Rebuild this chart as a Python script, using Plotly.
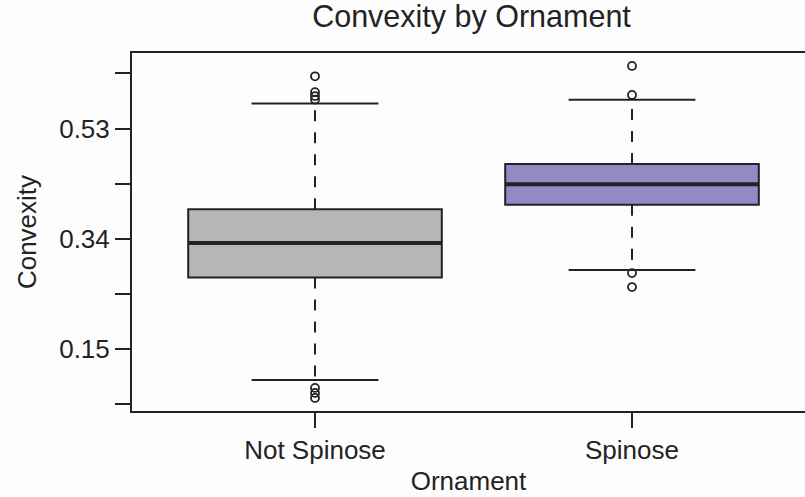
import plotly.graph_objects as go

# ---- data ----
categories = ["Not Spinose", "Spinose"]
q1 = [0.2734, 0.3985]
median = [0.3326, 0.4342]
q3 = [0.3911, 0.4691]
lower_whisker = [0.0965, 0.2861]
upper_whisker = [0.5730, 0.5798]
outliers_not_spinose = [0.6200, 0.5926, 0.5860, 0.5800, 0.0829, 0.0743, 0.0657]
outliers_spinose = [0.6379, 0.5879, 0.2809, 0.2568]
fill_colors = ["#b5b6b8", "#9489c2"]

y_tick_vals = [0.055, 0.15, 0.245, 0.34, 0.435, 0.53, 0.625]
y_tick_text = ["", "0.15", "", "0.34", "", "0.53", ""]

# ---- style ----
INK = "#232323"
FONT = "Liberation Sans, Arial, Helvetica, sans-serif"
BOX_W = 0.8
CAP_HALF = 0.2

outliers = [outliers_not_spinose, outliers_spinose]

fig = go.Figure()

for i, cat in enumerate(categories):
    # box body (no whiskers: fences at the hinges)
    fig.add_trace(go.Box(
        x=[i], q1=[q1[i]], median=[median[i]], q3=[q3[i]],
        lowerfence=[q1[i]], upperfence=[q3[i]],
        width=BOX_W, whiskerwidth=0,
        fillcolor=fill_colors[i],
        line=dict(color=INK, width=2),
        boxpoints=False, showlegend=False, hoverinfo="skip",
    ))

for i, cat in enumerate(categories):
    # dashed whiskers, starting at the hinges
    fig.add_trace(go.Scatter(
        x=[i, i], y=[q3[i], upper_whisker[i]], mode="lines",
        line=dict(color=INK, width=2, dash="11px,11px"),
        showlegend=False, hoverinfo="skip"))
    fig.add_trace(go.Scatter(
        x=[i, i], y=[q1[i], lower_whisker[i]], mode="lines",
        line=dict(color=INK, width=2, dash="11px,11px"),
        showlegend=False, hoverinfo="skip"))
    # whisker caps
    for w in (upper_whisker[i], lower_whisker[i]):
        fig.add_trace(go.Scatter(
            x=[i - CAP_HALF, i + CAP_HALF], y=[w, w], mode="lines",
            line=dict(color=INK, width=2),
            showlegend=False, hoverinfo="skip"))
    # thick median
    fig.add_trace(go.Scatter(
        x=[i - BOX_W / 2, i + BOX_W / 2], y=[median[i], median[i]], mode="lines",
        line=dict(color=INK, width=4),
        showlegend=False, hoverinfo="skip"))
    # outliers
    fig.add_trace(go.Scatter(
        x=[i] * len(outliers[i]), y=outliers[i], mode="markers",
        marker=dict(symbol="circle-open", size=8, color=INK, line=dict(width=1.8, color=INK)),
        showlegend=False, hoverinfo="skip"))

fig.update_layout(
    width=805, height=497,
    margin=dict(l=132, r=0, t=53, b=86),
    paper_bgcolor="#fdfdfd", plot_bgcolor="#fdfdfd",
    font=dict(family=FONT, size=26, color=INK),
    title=dict(text="Convexity by Ornament", font=dict(size=30.5, color=INK),
               xref="container", x=471.5 / 805, xanchor="center",
               yref="container", y=1 - 6 / 497, yanchor="top"),
    showlegend=False,
)
fig.update_xaxes(
    range=[-0.5773, 1.5457],
    tickmode="array", tickvals=[0, 1], ticktext=categories,
    tickfont=dict(size=26, color=INK),
    ticks="outside", ticklen=15, tickwidth=2, tickcolor=INK,
    showline=True, linewidth=2, linecolor=INK, mirror=True,
    showgrid=False, zeroline=False,
    title=dict(text="Ornament", font=dict(size=26, color=INK), standoff=8),
)
fig.update_yaxes(
    range=[0.0432, 0.6602],
    tickmode="array", tickvals=y_tick_vals, ticktext=y_tick_text,
    tickfont=dict(size=26, color=INK),
    ticks="outside", ticklen=15, tickwidth=2, tickcolor=INK,
    showline=True, linewidth=2, linecolor=INK, mirror=False,
    showgrid=False, zeroline=False,
    title=dict(text="Convexity", font=dict(size=26, color=INK), standoff=15),
)

fig.write_html("out.html")
